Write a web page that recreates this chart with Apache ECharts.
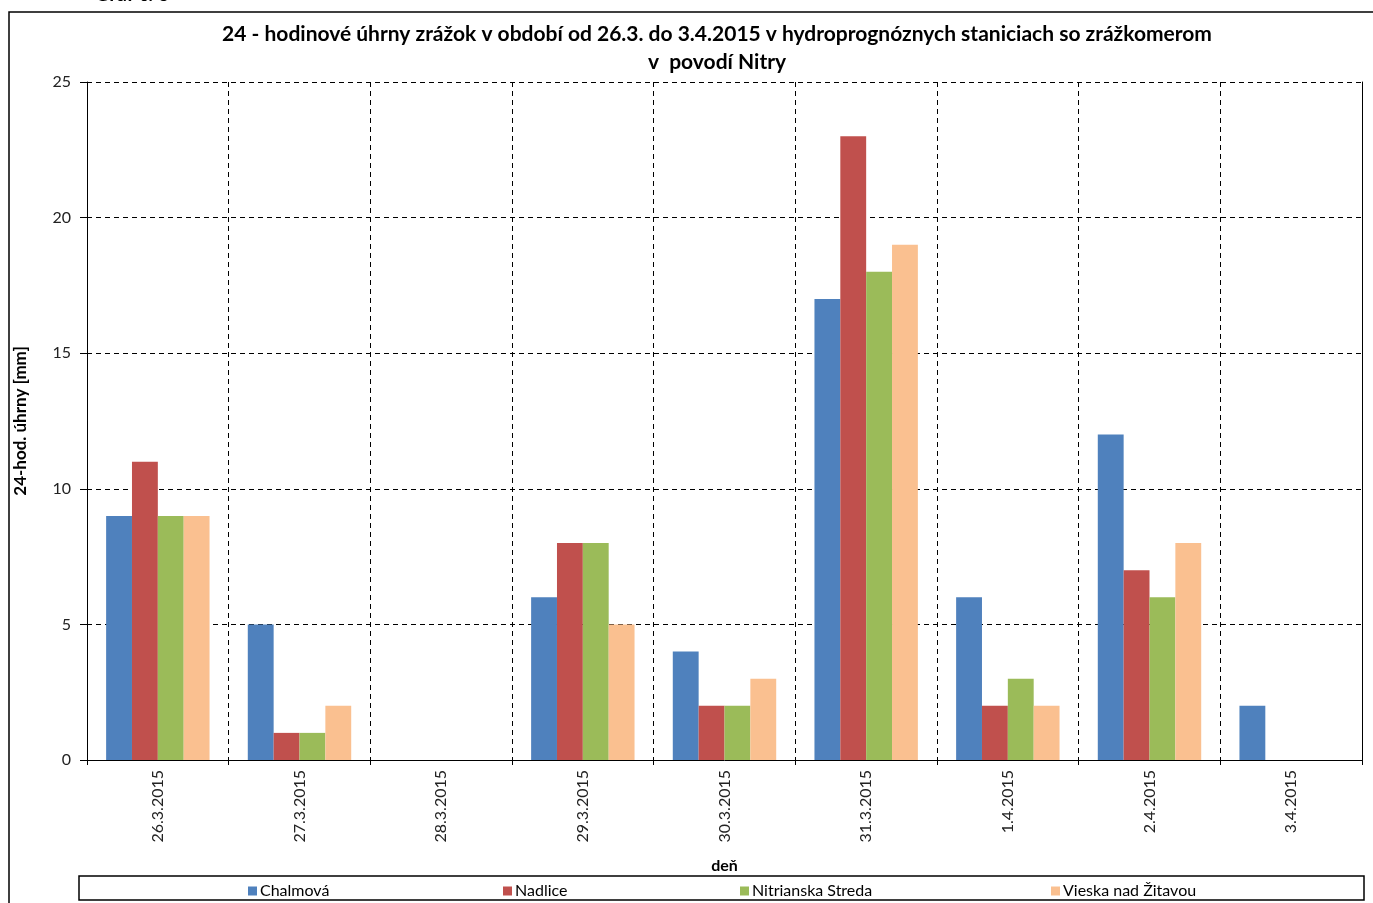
<!DOCTYPE html>
<html>
<head>
<meta charset="utf-8">
<script src="https://cdn.jsdelivr.net/npm/echarts@6/dist/echarts.min.js"></script>
<style>
  html, body { margin: 0; padding: 0; background: #fff; }
  #chart { width: 1373px; height: 903px; }
</style>
</head>
<body>
<div id="chart"></div>
<script>
const days = ['26.3.2015', '27.3.2015', '28.3.2015', '29.3.2015', '30.3.2015',
  '31.3.2015', '1.4.2015', '2.4.2015', '3.4.2015'];
const chalmova = [9, 5, 0, 6, 4, 17, 6, 12, 2];
const nadlice = [11, 1, 0, 8, 2, 23, 2, 7, 0];
const nitrianskaStreda = [9, 1, 0, 8, 2, 18, 3, 6, 0];
const vieska = [9, 2, 0, 5, 3, 19, 2, 8, 0];
const stations = ['Chalmová', 'Nadlice', 'Nitrianska Streda', 'Vieska nad Žitavou'];
const colors = ['#4F81BD', '#C0504D', '#9BBB59', '#FAC090'];

const font = 'Lato, "Open Sans", sans-serif';
const chart = echarts.init(document.getElementById('chart'));

// legend items sit at fixed spots inside the one framed box
const legendLeft = [243, 498, 735, 1046];

const option = {
  animation: false,
  color: colors,
  textStyle: { fontFamily: font },
  title: {
    text: '24 - hodinové úhrny zrážok v období od 26.3. do 3.4.2015 v hydroprognóznych staniciach so zrážkomerom\nv  povodí Nitry',
    left: 712,
    textAlign: 'center',
    top: 15,
    textStyle: { fontSize: 21, fontWeight: 'bold', color: '#000', lineHeight: 28, fontFamily: font }
  },
  legend: stations.map((s, i) => ({
    data: [s],
    left: legendLeft[i],
    top: 878,
    itemWidth: 9,
    itemHeight: 9,
    itemGap: 4,
    icon: 'rect',
    textStyle: { fontSize: 16, color: '#000', fontFamily: font, padding: [0, 0, 0, -2] }
  })),
  grid: { left: 87, right: 11, top: 82, bottom: 143, containLabel: false },
  xAxis: {
    type: 'category',
    data: days,
    name: 'deň',
    nameLocation: 'middle',
    nameGap: 98,
    nameTextStyle: { fontSize: 16, fontWeight: 'bold', color: '#000', fontFamily: font },
    axisLine: { lineStyle: { color: '#000', width: 1 } },
    axisTick: { show: true, length: 5, lineStyle: { color: '#000' } },
    axisLabel: { rotate: 90, fontSize: 16, color: '#222', margin: 10, fontFamily: font },
    splitLine: { show: true, lineStyle: { color: '#000', type: [5, 4], width: 1 } }
  },
  yAxis: [{
    type: 'value',
    min: 0,
    max: 25,
    interval: 5,
    name: '24-hod. úhrny [mm]',
    nameLocation: 'middle',
    nameGap: 58,
    nameTextStyle: { fontSize: 17, fontWeight: 'bold', color: '#000', fontFamily: font },
    axisLine: { show: true, lineStyle: { color: '#000', width: 1 } },
    axisTick: { show: true, length: 7, lineStyle: { color: '#000' } },
    axisLabel: { fontSize: 16, color: '#222', margin: 16, fontFamily: font },
    splitLine: { show: true, lineStyle: { color: '#000', type: [5, 4], width: 1 } }
  }, {
    // right frame of the plot area only
    type: 'value',
    position: 'right',
    min: 0,
    max: 25,
    interval: 5,
    axisLine: { show: true, lineStyle: { color: '#000', width: 1 } },
    axisTick: { show: false },
    axisLabel: { show: false },
    splitLine: { show: false }
  }],
  series: [
    { name: stations[0], type: 'bar', data: chalmova, barGap: '0%', barCategoryGap: '27%' },
    { name: stations[1], type: 'bar', data: nadlice, barGap: '0%', barCategoryGap: '27%' },
    { name: stations[2], type: 'bar', data: nitrianskaStreda, barGap: '0%', barCategoryGap: '27%' },
    { name: stations[3], type: 'bar', data: vieska, barGap: '0%', barCategoryGap: '27%' }
  ],
  graphic: [
    {
      type: 'rect',
      shape: { x: 9, y: 12, width: 1420, height: 960 },
      style: { fill: 'none', stroke: '#000', lineWidth: 1.5 },
      silent: true
    },
    {
      type: 'rect',
      shape: { x: 79, y: 876, width: 1285, height: 24 },
      style: { fill: 'none', stroke: '#000', lineWidth: 1.5 },
      silent: true
    },
    {
      type: 'text',
      left: 95,
      top: -15,
      style: { text: 'Graf č. 3', font: 'bold 20px ' + font, fill: '#000' },
      silent: true
    }
  ]
};

chart.setOption(option);
</script>
</body>
</html>
